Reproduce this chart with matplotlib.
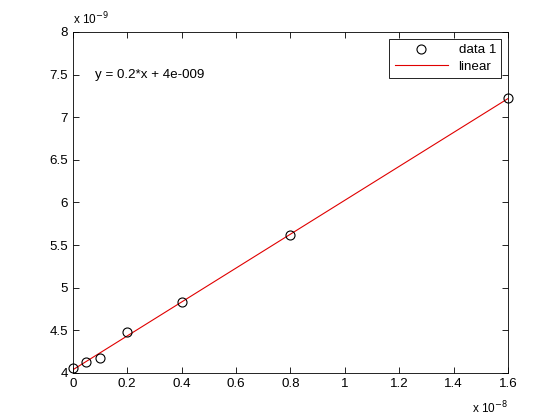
import numpy as np
import matplotlib.pyplot as plt
from matplotlib.ticker import FuncFormatter

plt.rcParams['font.family'] = ['Liberation Sans', 'DejaVu Sans']
plt.rcParams['font.size'] = 9.6

# data points (x in s, y in s)
x_data = np.array([0, 0.05, 0.1, 0.2, 0.4, 0.8, 1.6]) * 1e-8
y_data = np.array([4.06, 4.13, 4.18, 4.48, 4.83, 5.62, 7.22]) * 1e-9

fit = np.polyfit(x_data, y_data, 1)
x_fit = np.array([x_data.min(), x_data.max()])
y_fit = np.polyval(fit, x_fit)

fig = plt.figure(figsize=(5.6, 4.2), dpi=100)
ax = fig.add_axes([0.13, 0.112, 0.777, 0.812])

ax.plot(x_data, y_data, 'o', mfc='none', mec='black', ms=6.5, mew=0.8,
        label='data 1', clip_on=False, zorder=3)
ax.plot(x_fit, y_fit, '-', color='#e00000', lw=0.8, label='linear')

ax.set_xlim(0, 1.6e-8)
ax.set_ylim(4e-9, 8e-9)
ax.set_xticks(np.arange(0, 1.61, 0.2) * 1e-8)
ax.set_yticks(np.arange(4, 8.01, 0.5) * 1e-9)
ax.xaxis.set_major_formatter(FuncFormatter(lambda v, p: f'{v/1e-8:g}'))
ax.yaxis.set_major_formatter(FuncFormatter(lambda v, p: f'{v/1e-9:g}'))
ax.tick_params(direction='in', top=True, right=True, length=4, width=0.6, labelsize=9.6)
for s in ax.spines.values():
    s.set_linewidth(0.6)

ax.text(0.08e-8, 7.5e-9, 'y = 0.2*x + 4e-009', fontsize=9.6, va='center')
fig.text(0.13, 0.935, r'x 10$^{-9}$', fontsize=8.5, ha='left', va='bottom')
fig.text(0.907, 0.008, r'x 10$^{-8}$', fontsize=8.5, ha='right', va='bottom')

leg = ax.legend(loc='upper right', fancybox=False, edgecolor='black', framealpha=1,
                fontsize=9.6, handlelength=4, borderaxespad=0.5, labelspacing=0.3)
leg.get_frame().set_linewidth(0.6)

fig.savefig('out.png')
